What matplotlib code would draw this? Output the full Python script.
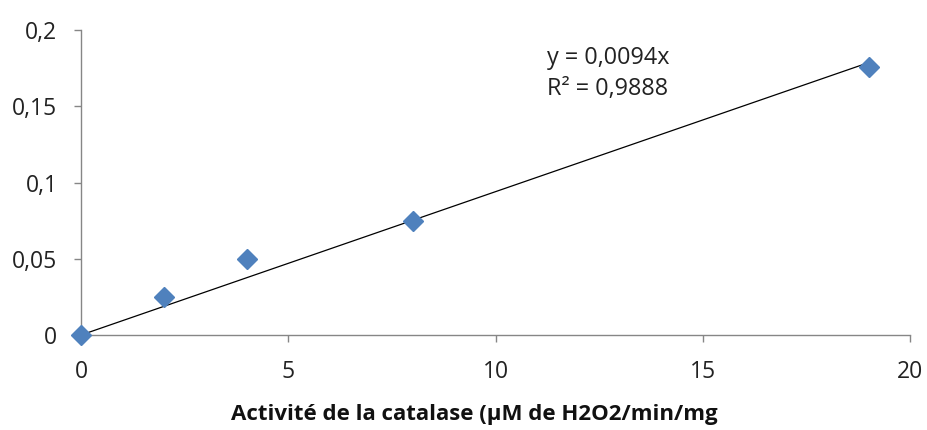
import matplotlib.pyplot as plt
from matplotlib.ticker import FuncFormatter

# data
activite = [0, 2, 4, 8, 19]
absorbance = [0, 0.025, 0.05, 0.075, 0.176]
pente = 0.0094
r2 = 0.9888
x_ticks = [0, 5, 10, 15, 20]
y_ticks = [0, 0.05, 0.1, 0.15, 0.2]

plt.rcParams['font.family'] = ['Open Sans', 'DejaVu Sans']
axis_grey = '#868686'
blue = '#4F81BD'

fig = plt.figure(figsize=(9.28, 4.3), dpi=100)
ax = fig.add_axes([0.0873, 0.2209, 0.8933, 0.7093])

# trendline through origin
x_fit = [0, max(activite)]
ax.plot(x_fit, [pente * v for v in x_fit], c='black', lw=0.9, zorder=2)
ax.plot(activite, absorbance, ls='none', marker='D', ms=10.3, c=blue, zorder=3, clip_on=False)

ax.set_xlim(0, 20)
ax.set_ylim(0, 0.2)
ax.set_xticks(x_ticks)
ax.set_yticks(y_ticks)
ax.yaxis.set_major_formatter(FuncFormatter(lambda v, p: f'{v:g}'.replace('.', ',')))
ax.xaxis.set_major_formatter(FuncFormatter(lambda v, p: f'{v:g}'))

for side in ['top', 'right']:
    ax.spines[side].set_visible(False)
for side in ['left', 'bottom']:
    ax.spines[side].set_color(axis_grey)
    ax.spines[side].set_linewidth(1.0)
ax.tick_params(axis='both', colors=axis_grey, length=5, width=1.0, labelsize=16.5, labelcolor='#222222')
ax.tick_params(axis='x', pad=13)
ax.tick_params(axis='y', pad=12)

eq = f'y = {pente:.4f}x'.replace('.', ',') + '\n' + f'R² = {r2:.4f}'.replace('.', ',')
ax.text(11.25, 0.1895, eq, fontsize=16.8, va='top', ha='left', color='#222222', linespacing=1.38)

fig.text(0.511, 0.035, 'Activité de la catalase (µM de H2O2/min/mg', fontsize=16, fontweight='bold',
         ha='center', va='center', color='#111111')

fig.savefig('out.png', dpi=100)
